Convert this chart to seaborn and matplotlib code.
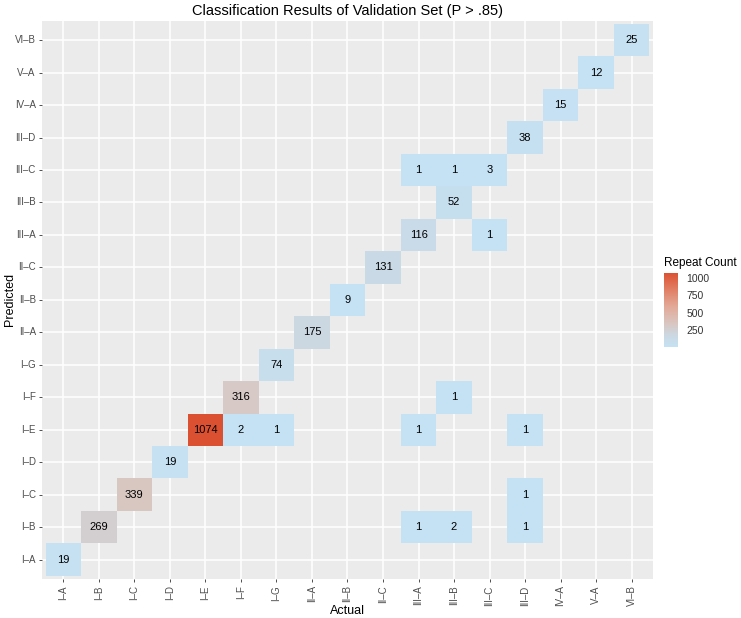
import numpy as np
import pandas as pd
import matplotlib
matplotlib.use("Agg")
import matplotlib.pyplot as plt
import seaborn as sns
from matplotlib.colors import LinearSegmentedColormap

# classes, in axis order (bottom-to-top on y, left-to-right on x)
classes = ["I–A", "I–B", "I–C", "I–D", "I–E", "I–F", "I–G", "II–A", "II–B",
           "II–C", "III–A", "III–B", "III–C", "III–D", "IV–A", "V–A", "VI–B"]

# non-empty cells of the confusion matrix
actual = ["I–A", "I–B", "III–A", "III–B", "III–D", "I–C", "III–D", "I–D",
          "I–E", "I–F", "I–G", "III–A", "III–D", "I–F", "III–B", "I–G",
          "II–A", "II–B", "II–C", "III–A", "III–C", "III–B", "III–A", "III–B",
          "III–C", "III–D", "IV–A", "V–A", "VI–B"]
predicted = ["I–A", "I–B", "I–B", "I–B", "I–B", "I–C", "I–C", "I–D",
             "I–E", "I–E", "I–E", "I–E", "I–E", "I–F", "I–F", "I–G",
             "II–A", "II–B", "II–C", "III–A", "III–A", "III–B", "III–C", "III–C",
             "III–C", "III–D", "IV–A", "V–A", "VI–B"]
counts = [19, 269, 1, 2, 1, 339, 1, 19,
          1074, 2, 1, 1, 1, 316, 1, 74,
          175, 9, 131, 116, 1, 52, 1, 1,
          3, 38, 15, 12, 25]

df = pd.DataFrame({"Actual": actual, "Predicted": predicted, "Count": counts})
grid = df.pivot(index="Predicted", columns="Actual", values="Count")
grid = grid.reindex(index=classes[::-1], columns=classes)

cmap = LinearSegmentedColormap.from_list(
    "repeat",
    [(0.0, "#C4E2F4"), (0.16, "#CBD8E2"), (0.31, "#D8C7C2"),
     (0.55, "#E2A896"), (0.8, "#E07A5E"), (1.0, "#DC5032")])

plt.rcParams["font.family"] = ["Liberation Sans", "DejaVu Sans"]

fig = plt.figure(figsize=(7.41, 6.18), dpi=100)
ax = fig.add_axes([0.0567, 0.063, 0.8245, 0.9035])
cax = fig.add_axes([0.896, 0.438, 0.019, 0.121])

sns.heatmap(grid, ax=ax, cbar_ax=cax, cmap=cmap, vmin=1, vmax=1074,
            annot=True, fmt=".0f", annot_kws={"color": "black", "fontsize": 8},
            linewidths=0, cbar_kws={"ticks": [250, 500, 750, 1000]})

ax.set_facecolor("#EBEBEB")
ax.set_axisbelow(True)
ax.grid(True, color="white", linewidth=1.1)
ax.set_xlim(-0.1, len(classes) + 0.1)
ax.set_ylim(len(classes) + 0.1, -0.1)
for s in ax.spines.values():
    s.set_visible(False)

ax.set_xticklabels(classes, rotation=90, color="#4D4D4D", fontsize=7)
ax.set_yticklabels(classes[::-1], rotation=0, color="#4D4D4D", fontsize=7)
ax.tick_params(axis="both", length=2.5, width=0.6, color="#333333", pad=2)
ax.set_xlabel("Actual", fontsize=9)
ax.set_ylabel("Predicted", fontsize=9)
ax.xaxis.set_label_coords(0.5, -0.046)
ax.yaxis.set_label_coords(-0.043, 0.5)
ax.set_title("Classification Results of Validation Set (P > .85)", fontsize=10.5, pad=4)

cax.tick_params(length=3, color="white", width=0.6, labelsize=7.5, labelcolor="#333333", pad=3)
cax.yaxis.set_ticks_position("right")
for s in cax.spines.values():
    s.set_visible(False)
cax.set_title("Repeat Count", fontsize=8.5, loc="left", pad=5)

fig.savefig("out.png", dpi=100)
